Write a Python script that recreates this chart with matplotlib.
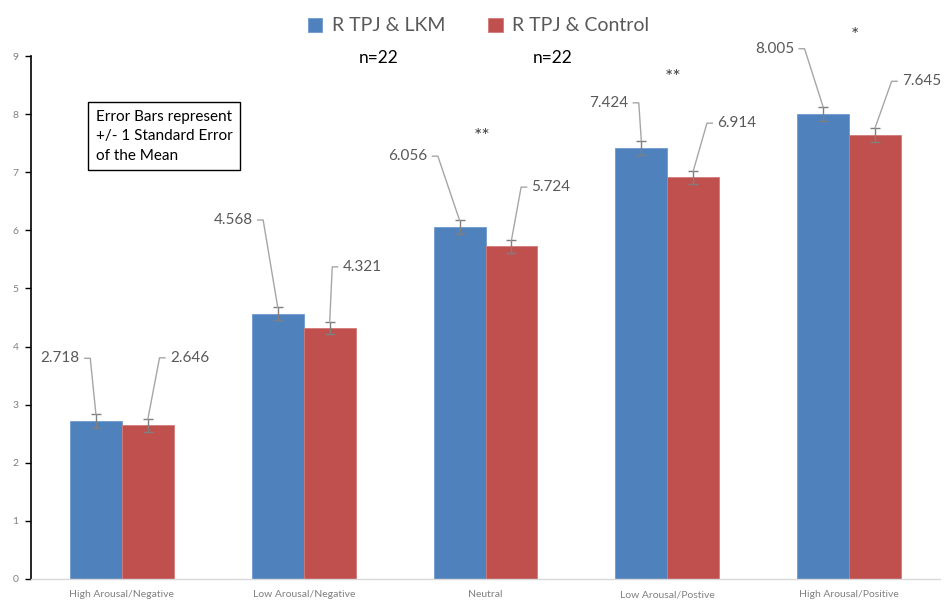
import numpy as np
import matplotlib
matplotlib.use("Agg")
import matplotlib.pyplot as plt

# values
categories = ["High Arousal/Negative", "Low Arousal/Negative", "Neutral",
              "Low Arousal/Postive", "High Arousal/Positive"]
lkm = [2.718, 4.568, 6.056, 7.424, 8.005]
control = [2.646, 4.321, 5.724, 6.914, 7.645]
lkm_se = [0.12, 0.11, 0.12, 0.12, 0.12]
control_se = [0.11, 0.10, 0.11, 0.11, 0.12]
stars = ["", "", "**", "**", "*"]

# label placement (offset from bar centre / bar value, data units)
lkm_lab_off = [(-0.088, 1.08), (-0.137, 1.61), (-0.176, 1.22), (-0.071, 0.77), (-0.159, 1.12)]
ctl_lab_off = [(0.121, 1.16), (0.071, 1.05), (0.110, 1.02), (0.132, 0.93), (0.148, 0.92)]
star_pos = [None, None, (1.98, 7.62), (3.03, 8.63), (4.03, 9.36)]

BLUE = "#4F81BD"
RED = "#C0504D"
GREY = "#A6A6A6"
FONT = ["Lato", "DejaVu Sans"]

plt.rcParams['font.family'] = FONT

fig = plt.figure(figsize=(9.44, 6.07), dpi=100)
ax = fig.add_axes([31 / 944, 28 / 607, 909 / 944, 523 / 607])

x = np.arange(len(categories))
w = 0.286
ax.bar(x - w / 2, lkm, w, color=BLUE, edgecolor="#6d9bd1", linewidth=0.6,
       label="R TPJ & LKM", zorder=2)
ax.bar(x + w / 2, control, w, color=RED, edgecolor="#d47a78", linewidth=0.6,
       label="R TPJ & Control", zorder=2)
ax.errorbar(x - w / 2, lkm, yerr=lkm_se, fmt="none", ecolor="#7f7f7f",
            elinewidth=1, capsize=3.5, capthick=1, zorder=3)
ax.errorbar(x + w / 2, control, yerr=control_se, fmt="none", ecolor="#7f7f7f",
            elinewidth=1, capsize=3.5, capthick=1, zorder=3)

# data labels with leader lines
gap, hook = 0.027, 0.03
for i in range(len(categories)):
    bx = x[i] - w / 2
    dx, dy = lkm_lab_off[i]
    lx, ly = bx + dx, lkm[i] + dy
    ax.text(lx, ly, f"{lkm[i]:.3f}", ha="right", va="center", fontsize=11,
            color="#595959")
    ax.plot([lx + gap, lx + gap + hook, bx], [ly, ly, lkm[i] + lkm_se[i]],
            color=GREY, lw=1, clip_on=False, zorder=4)

    bx = x[i] + w / 2
    dx, dy = ctl_lab_off[i]
    lx, ly = bx + dx, control[i] + dy
    ax.text(lx, ly, f"{control[i]:.3f}", ha="left", va="center", fontsize=11,
            color="#595959")
    ax.plot([lx - gap, lx - gap - hook, bx], [ly, ly, control[i] + control_se[i]],
            color=GREY, lw=1, clip_on=False, zorder=4)

    if star_pos[i] is not None:
        ax.text(star_pos[i][0], star_pos[i][1], stars[i], ha="center", va="center",
                fontsize=14, color="#404040")

ax.text(1.41, 8.97, "n=22", ha="center", va="center", fontsize=12.5, color="black")
ax.text(2.37, 8.97, "n=22", ha="center", va="center", fontsize=12.5, color="black")

ax.text(-0.143, 7.62, "Error Bars represent\n+/- 1 Standard Error\nof the Mean",
        ha="left", va="center", fontsize=11, color="black", linespacing=1.5,
        bbox=dict(boxstyle="square,pad=0.5", facecolor="white", edgecolor="black",
                  linewidth=1))

ax.set_xlim(-0.5, len(categories) - 0.5)
ax.set_ylim(0, 9)
ax.set_yticks(range(10))
ax.set_xticks(x)
ax.set_xticklabels(categories, fontsize=7.5, color="#808080")
ax.tick_params(axis="y", labelsize=7.5, labelcolor="#808080", length=4,
               width=1, direction="out", color="black", pad=5)
ax.tick_params(axis="x", length=0, pad=8)
for s in ["top", "right"]:
    ax.spines[s].set_visible(False)
ax.spines["left"].set_color("black")
ax.spines["left"].set_linewidth(1.2)
ax.spines["bottom"].set_color("#D9D9D9")
ax.spines["bottom"].set_linewidth(1)

fig.legend(loc="upper center", bbox_to_anchor=(0.507, 1.0), ncol=2, frameon=False,
           fontsize=14, labelcolor="#595959", handlelength=0.75, handleheight=0.75,
           handletextpad=0.5, columnspacing=2.2)

fig.savefig("out.png", dpi=100)
